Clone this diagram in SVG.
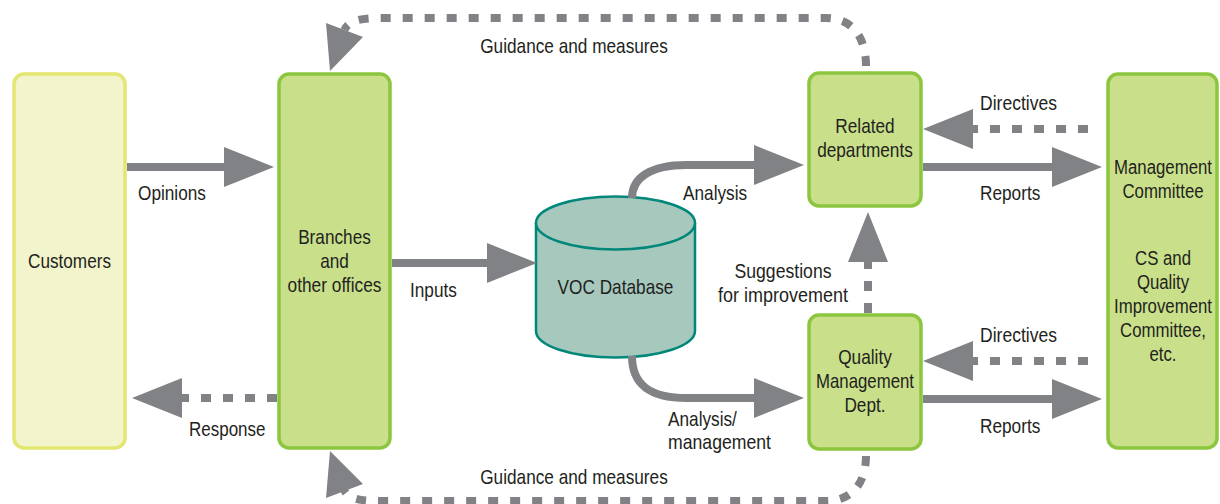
<svg xmlns="http://www.w3.org/2000/svg" width="1220" height="504" viewBox="0 0 1220 504">
  <style>
    text { font-family: "Liberation Sans", Arial, sans-serif; font-size: 21px; fill: #231f20; }
    .mid { text-anchor: middle; }
    .box { fill: #c9df8a; stroke: #8cc63f; stroke-width: 3.5; }
    .cust { fill: #f2f4cb; stroke: #e3e670; stroke-width: 3.5; }
    .db { fill: #a6c8bd; stroke: #00877a; stroke-width: 2.5; }
    .flow { fill: none; stroke: #808285; stroke-width: 8; }
    .dash { stroke-dasharray: 10 12; }
    .head { fill: #808285; }
  </style>
  <defs>
    <marker id="arrow" markerUnits="userSpaceOnUse" viewBox="0 -20 50 40" refX="0" refY="0" markerWidth="50" markerHeight="40" orient="auto">
      <path class="head" d="M0,-20 L50,0 L0,20 Z"/>
    </marker>
  </defs>

  <!-- nodes (labels are condensed with textLength or a horizontal scale) -->
  <g id="customers">
    <rect class="cust" x="14" y="74" width="111" height="374" rx="10"/>
    <text class="mid" x="69.5" y="268" textLength="83" lengthAdjust="spacingAndGlyphs">Customers</text>
  </g>
  <g id="branches">
    <rect class="box" x="279" y="74" width="111" height="374" rx="10"/>
    <text class="mid" x="334.5" y="244" textLength="72.7" lengthAdjust="spacingAndGlyphs">Branches</text>
    <text class="mid" x="334.5" y="268" textLength="28.7" lengthAdjust="spacingAndGlyphs">and</text>
    <text class="mid" x="334.5" y="292" textLength="93.8" lengthAdjust="spacingAndGlyphs">other offices</text>
  </g>
  <g id="voc-database">
    <path class="db" d="M536,223 L536,331 A79.5,26.5 0 0 0 695,331 L695,223"/>
    <ellipse class="db" cx="615.5" cy="223" rx="79.5" ry="26.5"/>
    <text class="mid" x="615.5" y="294" textLength="115.8" lengthAdjust="spacingAndGlyphs">VOC Database</text>
  </g>
  <g id="related-departments">
    <rect class="box" x="809" y="73" width="112" height="133" rx="10"/>
    <text class="mid" x="865" y="133" textLength="59.3" lengthAdjust="spacingAndGlyphs">Related</text>
    <text class="mid" x="865" y="157" textLength="95.7" lengthAdjust="spacingAndGlyphs">departments</text>
  </g>
  <g id="quality-management">
    <rect class="box" x="809" y="315" width="112" height="134" rx="10"/>
    <text class="mid" x="865" y="364" textLength="53.6" lengthAdjust="spacingAndGlyphs">Quality</text>
    <text class="mid" x="865" y="388" textLength="98" lengthAdjust="spacingAndGlyphs">Management</text>
    <text class="mid" x="865" y="412" textLength="41.2" lengthAdjust="spacingAndGlyphs">Dept.</text>
  </g>
  <g id="management-committee">
    <rect class="box" x="1108" y="74" width="109" height="374" rx="10"/>
    <g transform="translate(1163 0) scale(0.8 1)">
      <text class="mid" x="0" y="174">Management</text>
      <text class="mid" x="0" y="198">Committee</text>
      <text class="mid" x="0" y="265">CS and</text>
      <text class="mid" x="0" y="289">Quality</text>
      <text class="mid" x="0" y="313">Improvement</text>
      <text class="mid" x="0" y="337">Committee,</text>
      <text class="mid" x="0" y="361">etc.</text>
    </g>
  </g>

  <!-- connectors -->
  <g id="connectors">
    <!-- customer opinions and responses -->
    <path class="flow" d="M127,167 L224,167" marker-end="url(#arrow)"/>
    <path class="flow dash" d="M277,398 L182,398" marker-end="url(#arrow)"/>
    <!-- inputs into the database -->
    <path class="flow" d="M392,263 L487,263" marker-end="url(#arrow)"/>
    <!-- analysis branches out of the database -->
    <path class="flow" d="M632,198 C632,178 650,165 687,165 L754,165" marker-end="url(#arrow)"/>
    <path class="flow" d="M632,356 C632,385 650,398 687,398 L754,398" marker-end="url(#arrow)"/>
    <!-- suggestions for improvement -->
    <path class="flow dash" d="M868,313 L868,262" marker-end="url(#arrow)"/>
    <!-- directives and reports -->
    <path class="flow dash" d="M1088,129 L973,129" marker-end="url(#arrow)"/>
    <path class="flow" d="M923,167 L1052,167" marker-end="url(#arrow)"/>
    <path class="flow dash" d="M1088,361 L973,361" marker-end="url(#arrow)"/>
    <path class="flow" d="M923,399 L1052,399" marker-end="url(#arrow)"/>
    <!-- guidance and measures loops back to the branches -->
    <path class="flow dash" d="M866,66 C866,38 853,18 826,18 L380,18 C362,18 348,20.5 344.5,30"/>
    <polygon class="head" points="326,23 363,37 330,71"/>
    <path class="flow dash" d="M866,456 C866,482 853,501 826,501 L380,501 C362,501 348,499 344.5,490.5"/>
    <polygon class="head" points="330,451 363,484 326,498"/>
  </g>

  <!-- connector labels -->
  <g id="labels">
    <text class="mid" x="574" y="53" textLength="187.6" lengthAdjust="spacingAndGlyphs">Guidance and measures</text>
    <text x="138" y="200" textLength="67.9" lengthAdjust="spacingAndGlyphs">Opinions</text>
    <text x="189" y="436" textLength="76.5" lengthAdjust="spacingAndGlyphs">Response</text>
    <text x="410" y="297" textLength="46.9" lengthAdjust="spacingAndGlyphs">Inputs</text>
    <text x="683" y="200" textLength="64.1" lengthAdjust="spacingAndGlyphs">Analysis</text>
    <text x="668" y="426" textLength="68.9" lengthAdjust="spacingAndGlyphs">Analysis/</text>
    <text x="668" y="449" textLength="103" lengthAdjust="spacingAndGlyphs">management</text>
    <text class="mid" x="783" y="278" textLength="97" lengthAdjust="spacingAndGlyphs">Suggestions</text>
    <text class="mid" x="783" y="302" textLength="130" lengthAdjust="spacingAndGlyphs">for improvement</text>
    <text x="980" y="110" textLength="77" lengthAdjust="spacingAndGlyphs">Directives</text>
    <text x="980" y="200" textLength="60.3" lengthAdjust="spacingAndGlyphs">Reports</text>
    <text x="980" y="342" textLength="77" lengthAdjust="spacingAndGlyphs">Directives</text>
    <text x="980" y="433" textLength="60.3" lengthAdjust="spacingAndGlyphs">Reports</text>
    <text class="mid" x="574" y="484" textLength="187.6" lengthAdjust="spacingAndGlyphs">Guidance and measures</text>
  </g>
</svg>
